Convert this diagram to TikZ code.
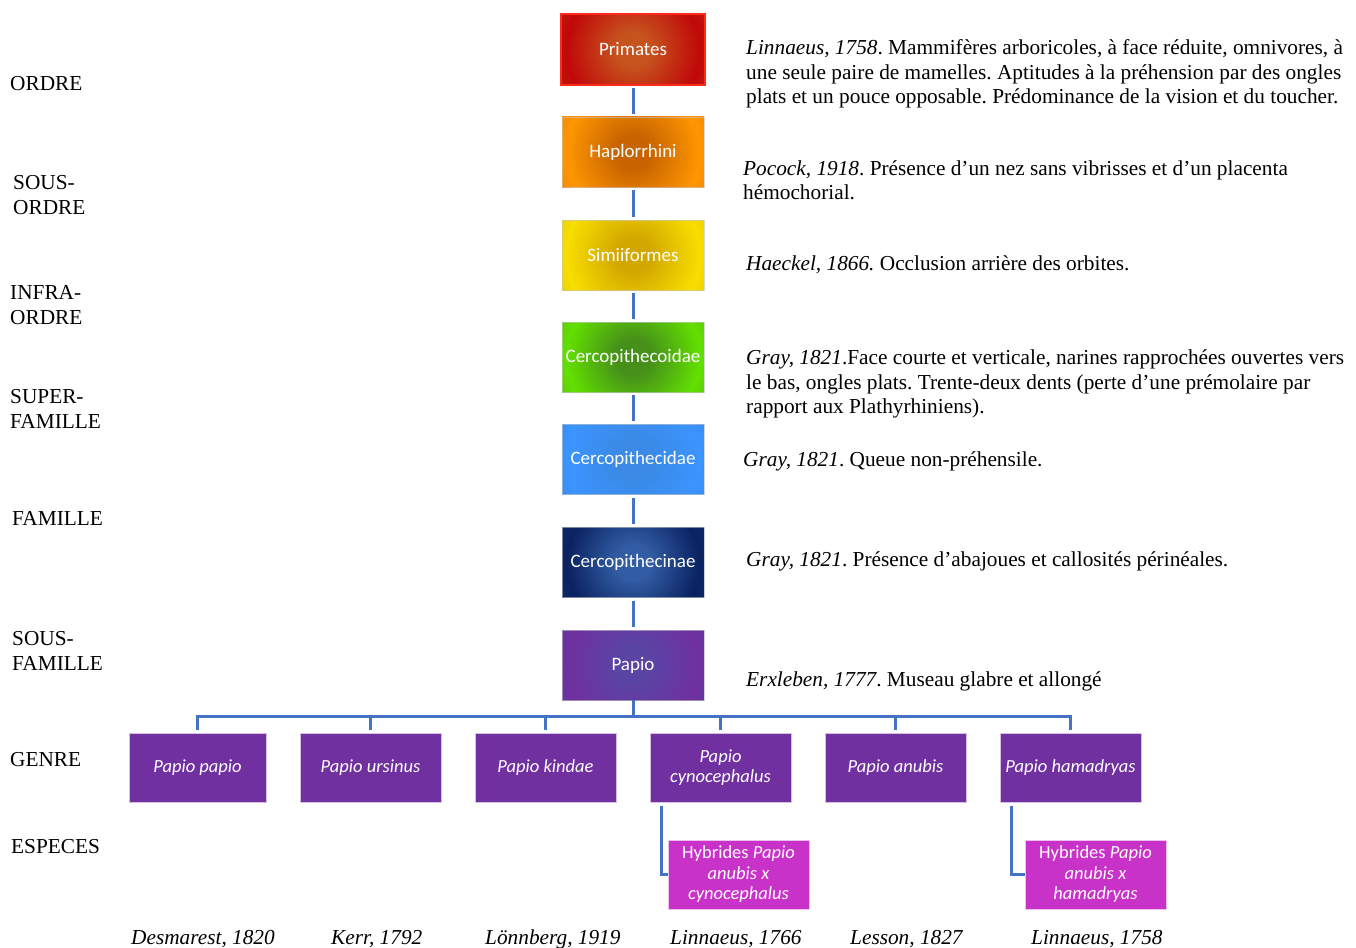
\documentclass[tikz,border=0pt]{standalone}
\usepackage{fontspec}
\setmainfont{Liberation Serif}
\newfontfamily\boxfont{Carlito}
\usetikzlibrary{calc}
\frenchspacing

\definecolor{connC}{HTML}{4472C4}
\definecolor{primC}{HTML}{C6521E}
\definecolor{primR}{HTML}{C00808}
\definecolor{primE}{HTML}{BE4A1E}
\definecolor{hapC}{HTML}{C86400}
\definecolor{hapR}{HTML}{FF9600}
\definecolor{hapE}{HTML}{C46614}
\definecolor{simC}{HTML}{D2A800}
\definecolor{simR}{HTML}{F8DE00}
\definecolor{simE}{HTML}{C4A200}
\definecolor{cerC}{HTML}{46901A}
\definecolor{cerR}{HTML}{62E000}
\definecolor{cerE}{HTML}{4A8420}
\definecolor{cidC}{HTML}{3A8AE6}
\definecolor{cidR}{HTML}{3C94FF}
\definecolor{cidE}{HTML}{2E6CC4}
\definecolor{cinC}{HTML}{325CA4}
\definecolor{cinR}{HTML}{0A2260}
\definecolor{cinE}{HTML}{1E3C84}
\definecolor{papC}{HTML}{5A44A4}
\definecolor{papR}{HTML}{7030A0}
\definecolor{papE}{HTML}{3A52A0}
\definecolor{genC}{HTML}{7030A0}
\definecolor{hybC}{HTML}{C832C8}
\definecolor{primBorder}{HTML}{FF2A1A}

\pgfdeclareradialshading{shPrim}{\pgfpoint{0bp}{0bp}}{color(0bp)=(primC); color(5bp)=(primC); color(19bp)=(primR); color(37bp)=(primE); color(50bp)=(primE)}
\pgfdeclareradialshading{shHap}{\pgfpoint{0bp}{0bp}}{color(0bp)=(hapC); color(5bp)=(hapC); color(19bp)=(hapR); color(37bp)=(hapE); color(50bp)=(hapE)}
\pgfdeclareradialshading{shSim}{\pgfpoint{0bp}{0bp}}{color(0bp)=(simC); color(5bp)=(simC); color(19bp)=(simR); color(37bp)=(simE); color(50bp)=(simE)}
\pgfdeclareradialshading{shCer}{\pgfpoint{0bp}{0bp}}{color(0bp)=(cerC); color(5bp)=(cerC); color(19bp)=(cerR); color(37bp)=(cerE); color(50bp)=(cerE)}
\pgfdeclareradialshading{shCid}{\pgfpoint{0bp}{0bp}}{color(0bp)=(cidC); color(5bp)=(cidC); color(19bp)=(cidR); color(37bp)=(cidE); color(50bp)=(cidE)}
\pgfdeclareradialshading{shCin}{\pgfpoint{0bp}{0bp}}{color(0bp)=(cinC); color(5bp)=(cinC); color(19bp)=(cinR); color(37bp)=(cinE); color(50bp)=(cinE)}
\pgfdeclareradialshading{shPap}{\pgfpoint{0bp}{0bp}}{color(0bp)=(papC); color(5bp)=(papC); color(19bp)=(papR); color(37bp)=(papE); color(50bp)=(papE)}

\tikzset{
  taxbox/.style={minimum width=142pt, minimum height=70pt, inner sep=0pt,
    font=\boxfont\fontsize{19}{22}\selectfont, text=white,
    draw=white!55!gray, draw opacity=0.6, line width=0.5pt,
    path picture={\shade[shading=#1] (path picture bounding box.center) circle (88pt);}},
  genbox/.style={minimum width=141pt, minimum height=69pt, inner sep=0pt, align=center,
    fill=genC, draw=white!70!genC, line width=0.5pt, text=white,
    font=\boxfont\itshape\fontsize{18.5}{20.3}\selectfont},
  hybbox/.style={minimum width=141pt, minimum height=69pt, inner sep=0pt, align=center,
    fill=hybC, draw=white!70!hybC, line width=0.5pt, text=white,
    font=\boxfont\fontsize{18.5}{20.5}\selectfont},
  conn/.style={draw=connC, line width=3pt},
  rtext/.style={anchor=base west, align=left, inner sep=0pt, font=\fontsize{21.3}{24.5}\selectfont},
  ltext/.style={anchor=base west, align=left, inner sep=0pt, font=\fontsize{21.3}{24.5}\selectfont},
  atext/.style={anchor=base west, inner sep=0pt, font=\itshape\fontsize{21.3}{24.5}\selectfont}
}

\begin{document}
\begin{tikzpicture}[x=1pt, y=-1pt]
\useasboundingbox (0,0) rectangle (1356,947);
\fill[white] (0,0) rectangle (1356,947);

% main column
\node[taxbox=shPrim, draw=primBorder, draw opacity=1, line width=2pt, minimum width=144pt, minimum height=71pt] (prim) at (633,49.5) {Primates};
\node[taxbox=shHap] (hap) at (633,152) {Haplorrhini};
\node[taxbox=shSim] (sim) at (633,255) {Simiiformes};
\node[taxbox=shCer] (cer) at (633,357) {Cercopithecoidae};
\node[taxbox=shCid] (cid) at (633,459.5) {Cercopithecidae};
\node[taxbox=shCin] (cin) at (633,562.5) {Cercopithecinae};
\node[taxbox=shPap] (pap) at (633,665) {Papio};

\draw[conn, shorten <=2pt, shorten >=3pt] (prim) -- (hap);
\draw[conn, shorten <=3pt, shorten >=3pt] (hap) -- (sim);
\draw[conn, shorten <=3pt, shorten >=3pt] (sim) -- (cer);
\draw[conn, shorten <=3pt, shorten >=3pt] (cer) -- (cid);
\draw[conn, shorten <=3pt, shorten >=3pt] (cid) -- (cin);
\draw[conn, shorten <=3pt, shorten >=3pt] (cin) -- (pap);

% genus boxes
\node[genbox, minimum width=137pt] (g1) at (197.5,767.5) {Papio papio};
\node[genbox] (g2) at (370.5,767.5) {Papio ursinus};
\node[genbox] (g3) at (545.5,767.5) {Papio kindae};
\node[genbox] (g4) at (720.5,767.5) {Papio\\cynocephalus};
\node[genbox] (g5) at (895.5,767.5) {Papio anubis};
\node[genbox] (g6) at (1070.5,767.5) {Papio hamadryas};

\coordinate (bus) at (633,716);
\draw[conn] (pap) -- (bus);
\foreach \g in {g1,g2,g3,g4,g5,g6}{
  \draw[conn, shorten >=3pt] (bus) -| (\g);
}

% hybrids
\node[hybbox] (h1) at (738.5,874.5) {Hybrides \textit{Papio}\\\textit{anubis x}\\\textit{cynocephalus}};
\node[hybbox] (h2) at (1095.5,874.5) {Hybrides \textit{Papio}\\\textit{anubis x}\\\textit{hamadryas}};
\draw[conn] ([xshift=12pt,yshift=-4pt]g4.south west) |- (h1);
\draw[conn] ([xshift=12pt,yshift=-4pt]g6.south west) |- (h2);

% rank labels (base = last line)
\node[ltext] (r1) at (10,91) {ORDRE};
\node[ltext] (r2) at (13,214) {SOUS-\\ORDRE};
\node[ltext] (r3) at (10,324) {INFRA-\\ORDRE};
\node[ltext] (r4) at (10,428) {SUPER-\\FAMILLE};
\node[ltext] (r5) at (12,525) {FAMILLE};
\node[ltext] (r6) at (12,670) {SOUS-\\FAMILLE};
\node[ltext] (r7) at (10,766) {GENRE};
\node[ltext] (r8) at (11,853) {ESPECES};

% descriptions (base = last line)
\node[rtext] (d1) at (746,103.5) {\textit{Linnaeus, 1758}. Mammifères arboricoles, à face réduite, omnivores, à\\une seule paire de mamelles. Aptitudes à la préhension par des ongles\\plats et un pouce opposable. Prédominance de la vision et du toucher.};
\node[rtext] (d2) at (743,199.5) {\textit{Pocock, 1918}. Présence d’un nez sans vibrisses et d’un placenta\\hémochorial.};
\node[rtext] (d3) at (746,270.5) {\textit{Haeckel, 1866.} Occlusion arrière des orbites.};
\node[rtext] (d4) at (746,413.5) {\textit{Gray, 1821}.Face courte et verticale, narines rapprochées ouvertes vers\\le bas, ongles plats. Trente-deux dents (perte d’une prémolaire par\\rapport aux Plathyrhiniens).};
\node[rtext] (d5) at (743,466.5) {\textit{Gray, 1821}. Queue non-préhensile.};
\node[rtext] (d6) at (746,566.5) {\textit{Gray, 1821}. Présence d’abajoues et callosités périnéales.};
\node[rtext] (d7) at (746,686.5) {\textit{Erxleben, 1777}. Museau glabre et allongé};

% authors
\node[atext] (a1) at (131,944) {Desmarest, 1820};
\node[atext] (a2) at (331,944) {Kerr, 1792};
\node[atext] (a3) at (485,944) {Lönnberg, 1919};
\node[atext] (a4) at (670,944) {Linnaeus, 1766};
\node[atext] (a5) at (850,944) {Lesson, 1827};
\node[atext] (a6) at (1031,944) {Linnaeus, 1758};
\end{tikzpicture}
\end{document}
